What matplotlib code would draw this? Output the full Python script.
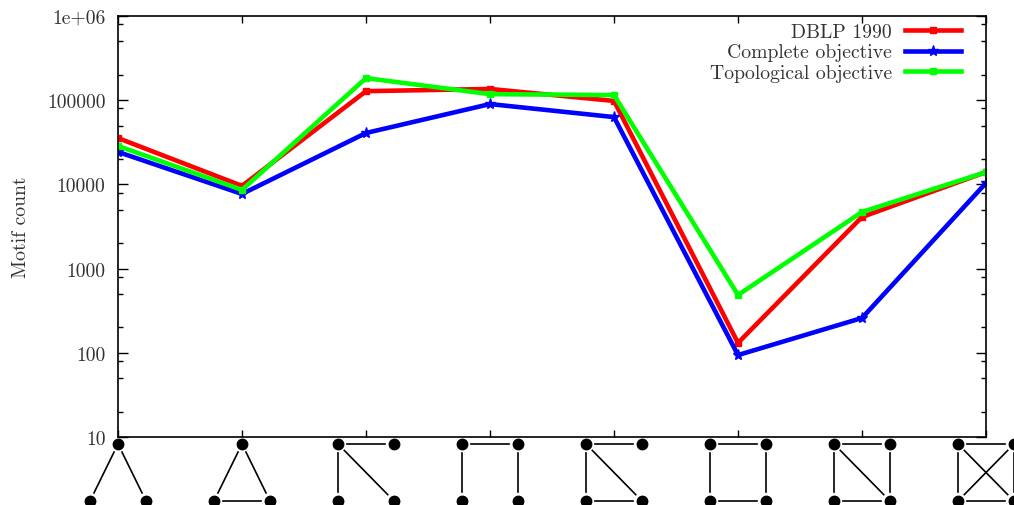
import matplotlib
matplotlib.use("Agg")
import matplotlib.pyplot as plt
import numpy as np

# motif counts per motif (8 four-node / three-node motifs)
dblp_1990 = [35500, 9600, 128000, 136000, 98000, 131, 4100, 14000]
complete_obj = [24300, 7700, 40800, 90000, 63000, 94, 259, 10400]
topological_obj = [28600, 8600, 183000, 118000, 115000, 486, 4700, 14000]

ytick_vals = [10, 100, 1000, 10000, 100000, 1000000]
ytick_labels = ["10", "100", "1000", "10000", "100000", "1e+06"]

# motif glyphs under the x axis: node slots and edges
nodes_tri = {"A": (0, 1), "L": (-1, 0), "R": (1, 0)}
nodes_sq = {"TL": (-1, 1), "TR": (1, 1), "BL": (-1, 0), "BR": (1, 0)}
motifs = [
    (nodes_tri, [("A", "L"), ("A", "R")]),
    (nodes_tri, [("A", "L"), ("A", "R"), ("L", "R")]),
    (nodes_sq, [("TL", "TR"), ("TL", "BL"), ("TL", "BR")]),
    (nodes_sq, [("TL", "TR"), ("TL", "BL"), ("TR", "BR")]),
    (nodes_sq, [("TL", "TR"), ("TL", "BL"), ("TL", "BR"), ("BL", "BR")]),
    (nodes_sq, [("TL", "TR"), ("TL", "BL"), ("TR", "BR"), ("BL", "BR")]),
    (nodes_sq, [("TL", "TR"), ("TL", "BL"), ("TR", "BR"), ("BL", "BR"), ("TL", "BR")]),
    (nodes_sq, [("TL", "TR"), ("TL", "BL"), ("TR", "BR"), ("BL", "BR"), ("TL", "BR"), ("TR", "BL")]),
]

plt.rcParams['font.family'] = ['cmr10', 'DejaVu Serif']
plt.rcParams['axes.formatter.use_mathtext'] = True

W, H = 1014, 506
fig = plt.figure(figsize=(W / 100, H / 100), dpi=100)
L, R, T, B = 118, 986, 17, 438
ax = fig.add_axes([L / W, 1 - B / H, (R - L) / W, (B - T) / H])

x = np.arange(len(dblp_1990))
lw = 3.3
ax.plot(x, dblp_1990, color='#ff0000', lw=lw, marker='s', ms=4, label='DBLP 1990')
ax.plot(x, complete_obj, color='#0000ff', lw=lw, marker='*', ms=8, label='Complete objective')
ax.plot(x, topological_obj, color='#00ff00', lw=lw, marker='s', ms=4, label='Topological objective')

ax.set_yscale('log')
ax.set_ylim(10, 1e6)
ax.set_xlim(0, 7)
ax.set_yticks(ytick_vals, ytick_labels)
minors = [m * d for d in [10, 100, 1000, 10000, 100000] for m in (2, 5, 8)]
ax.set_yticks(minors, minor=True)
ax.set_xticks(x, [""] * len(x))
ax.tick_params(axis='both', which='both', direction='in', top=True, right=True, width=1.0)
ax.tick_params(axis='y', which='major', length=7, pad=9, labelsize=14.2, labelcolor='#333333')
ax.tick_params(axis='y', which='minor', length=3.5)
ax.tick_params(axis='x', which='major', length=5)
for s in ax.spines.values():
    s.set_linewidth(1.2)
ax.set_ylabel('Motif count', fontsize=14.2, color='#333333', labelpad=12)

leg = ax.legend(loc='upper right', bbox_to_anchor=((961 - L) / (R - L), 0.983), frameon=False,
                markerfirst=False, fontsize=14.2, handlelength=2.85, handletextpad=0.65,
                labelspacing=0.12, borderpad=0, borderaxespad=0)
for t in leg.get_texts():
    t.set_color('#333333')

# motif axes below the plot (x in category units, y in pixels)
mx = fig.add_axes([L / W, 0, (R - L) / W, 1 - B / H])
mx.set_xlim(0, 7)
mx.set_ylim(0, H - B)
mx.axis('off')
px_per_x = (R - L) / 7.0
half_w = 28.0
y_bot, y_top = H - 502, H - 445
gap = 9.0
for i, (nodes, edges) in enumerate(motifs):
    pos = {k: (i + dx * half_w / px_per_x, y_bot + dy * (y_top - y_bot)) for k, (dx, dy) in nodes.items()}
    for a, b in edges:
        (x0, y0), (x1, y1) = pos[a], pos[b]
        dxp, dyp = (x1 - x0) * px_per_x, (y1 - y0)
        d = np.hypot(dxp, dyp)
        ux, uy = dxp / d, dyp / d
        mx.plot([x0 + ux * gap / px_per_x, x1 - ux * gap / px_per_x],
                [y0 + uy * gap, y1 - uy * gap], color='black', lw=1.2, clip_on=False)
    for k, (px, py) in pos.items():
        mx.plot(px, py, 'o', color='black', ms=7.5, clip_on=False)

fig.savefig('out.png', dpi=100)
